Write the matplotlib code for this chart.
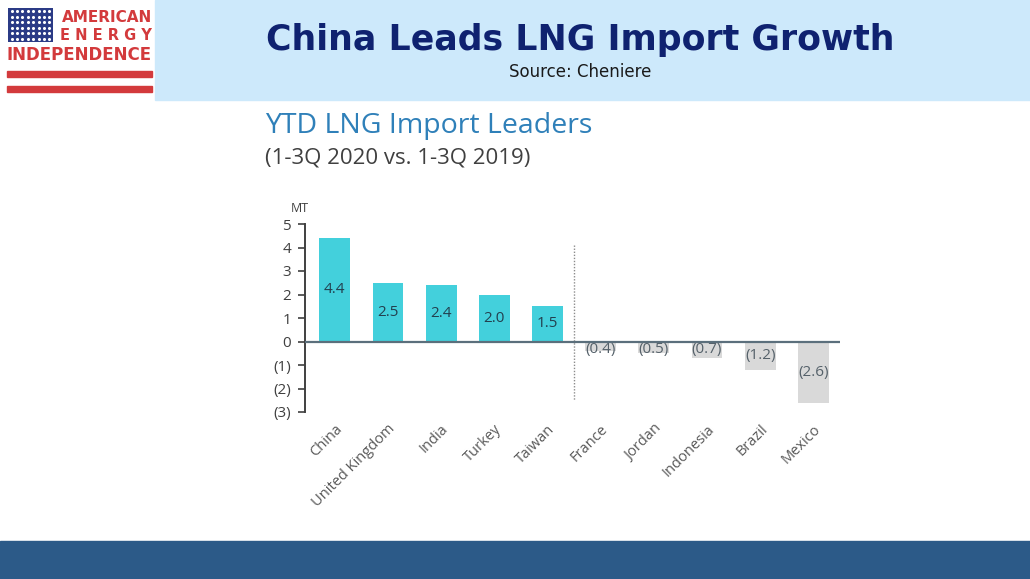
import numpy as np
import matplotlib
matplotlib.use('Agg')
import matplotlib.pyplot as plt
from matplotlib.patches import Rectangle

# chart data
countries = ['China', 'United Kingdom', 'India', 'Turkey', 'Taiwan',
             'France', 'Jordan', 'Indonesia', 'Brazil', 'Mexico']
change_mt = [4.4, 2.5, 2.4, 2.0, 1.5, -0.4, -0.5, -0.7, -1.2, -2.6]
ytick_vals = [-3, -2, -1, 0, 1, 2, 3, 4, 5]
ytick_labels = ['(3)', '(2)', '(1)', '0', '1', '2', '3', '4', '5']

W, H = 1030, 579
fig = plt.figure(figsize=(W / 100, H / 100), dpi=100)
fig.patch.set_facecolor('white')

# header band and footer band
fig.patches.append(Rectangle((155 / W, 1 - 100 / H), 1 - 155 / W, 100 / H,
                             transform=fig.transFigure, color='#cde9fb', zorder=0))
fig.patches.append(Rectangle((0, 0), 1, 38 / H,
                             transform=fig.transFigure, color='#2c5a88', zorder=0))

fig.text(580 / W, 1 - 40 / H, 'China Leads LNG Import Growth', ha='center', va='center',
         fontsize=25, fontweight='bold', color='#0f2270', family='DejaVu Sans')
fig.text(580 / W, 1 - 72 / H, 'Source: Cheniere', ha='center', va='center',
         fontsize=12, color='#1a1a1a', family='DejaVu Sans')

# logo
flag = fig.add_axes([8 / W, 1 - 42 / H, 45 / W, 34 / H])
flag.set_facecolor('#2b3b86')
flag.set_xlim(0, 1)
flag.set_ylim(0, 1)
sx, sy = np.meshgrid(np.linspace(0.08, 0.92, 8), np.linspace(0.1, 0.9, 6))
flag.scatter(sx.ravel(), sy.ravel(), s=1.5, color='white')
flag.set_xticks([])
flag.set_yticks([])
for s in flag.spines.values():
    s.set_visible(False)
red = '#d33a3c'
fig.text(152 / W, 1 - 17 / H, 'AMERICAN', ha='right', va='center', fontsize=11,
         fontweight='bold', color=red, family='DejaVu Sans')
fig.text(152 / W, 1 - 36 / H, 'E N E R G Y', ha='right', va='center', fontsize=10.5,
         fontweight='bold', color=red, family='DejaVu Sans')
fig.text(79 / W, 1 - 55 / H, 'INDEPENDENCE', ha='center', va='center', fontsize=12,
         fontweight='bold', color=red, family='DejaVu Sans')
for yy in (71, 86):
    fig.patches.append(Rectangle((7 / W, 1 - (yy + 6) / H), 145 / W, 6 / H,
                                 transform=fig.transFigure, color=red, zorder=1))

# chart titles
fig.text(265 / W, 1 - 126 / H, 'YTD LNG Import Leaders', ha='left', va='center',
         fontsize=20.5, color='#2f80b9', family='Open Sans')
fig.text(265 / W, 1 - 158 / H, '(1-3Q 2020 vs. 1-3Q 2019)', ha='left', va='center',
         fontsize=16, color='#404040', family='Open Sans')
fig.text(300 / W, 1 - 208 / H, 'MT', ha='center', va='center',
         fontsize=9, color='#404040', family='Open Sans')

# bar chart
ax = fig.add_axes([305 / W, 1 - 412 / H, 535 / W, 188 / H])
x = np.arange(len(countries))
colors = ['#43d0dc' if v > 0 else '#d9d9d9' for v in change_mt]
ax.bar(x, change_mt, width=0.58, color=colors, zorder=2)
for xi, v in zip(x, change_mt):
    if v > 0:
        lab, ypos, col = f'{v:.1f}', v / 2, '#23404f'
    else:
        lab, ypos, col = f'({abs(v):.1f})', min(v / 2, -0.33), '#55616a'
    ax.text(xi, ypos, lab, ha='center', va='center',
            fontsize=11, color=col, family='Open Sans', zorder=3)
ax.axhline(0, color='#5b6f7c', lw=1.6, zorder=4)
ax.plot([4.5, 4.5], [4.1, -2.5], ls=(0, (1, 1.2)), color='#8c8c8c', lw=1.0)

ax.set_xlim(-0.56, 9.5)
ax.set_ylim(-3, 5)
ax.set_yticks(ytick_vals)
ax.set_yticklabels(ytick_labels, fontsize=11, color='#404040', family='Open Sans')
ax.set_xticks(x)
ax.set_xticklabels(countries, rotation=45, ha='right', rotation_mode='anchor',
                   fontsize=10.5, color='#595959', family='Open Sans')
ax.tick_params(axis='x', length=0, pad=7)
ax.tick_params(axis='y', length=5, width=1.2, color='#404040', pad=5)
for side in ('top', 'right', 'bottom'):
    ax.spines[side].set_visible(False)
ax.spines['left'].set_color('#404040')
ax.spines['left'].set_linewidth(1.4)
ax.set_facecolor('none')

fig.savefig('out.png', dpi=100)
